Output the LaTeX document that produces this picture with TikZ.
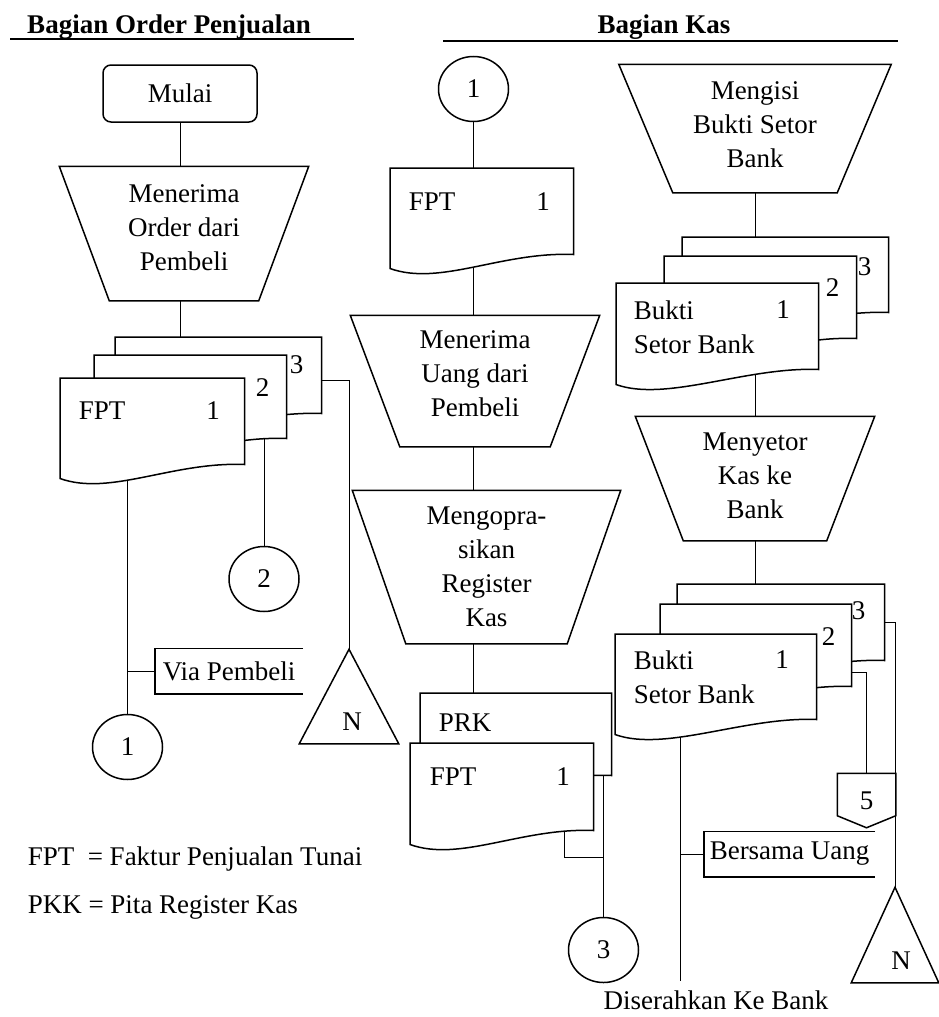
\documentclass[tikz,border=0pt]{standalone}
\usepackage{fontspec}
\setmainfont{Liberation Serif}
\usetikzlibrary{calc,shapes.geometric,backgrounds}

% trapezoid outline round a (empty) process node
\newcommand{\trapez}[2]{%
  \draw (#1.north west) -- (#1.north east) -- ([xshift=-#2pt]#1.south east)
    -- ([xshift=#2pt]#1.south west) -- cycle;}
% document outline, wavy bottom, right corner #2 higher
\newcommand{\docu}[2]{%
  \draw[fill=white] (#1.south west) -- (#1.north west) -- (#1.north east)
    -- ($(#1.south east)+(0,-#2)$)
    .. controls ($(#1.south east)+(-72,{-(#2+3)})$) and ($(#1.south west)+(50,18)$)
    .. (#1.south west) -- cycle;}

\begin{document}
\begin{tikzpicture}[x=1pt,y=-1pt,line width=1.5pt,
  every node/.style={font=\fontsize{27pt}{34pt}\selectfont, inner sep=2pt},
  head/.style={font=\fontsize{27pt}{34pt}\selectfont\bfseries},
  term/.style={draw, rounded corners=8pt, minimum width=154pt, minimum height=57pt},
  proc/.style={inner sep=0pt},
  doc/.style={inner sep=0pt, anchor=north west},
  conn/.style={draw, ellipse, minimum width=70pt, minimum height=65pt, inner sep=0pt},
  note/.style={anchor=west, inner xsep=7pt, minimum height=44pt}]

  \useasboundingbox (0,0) rectangle (938,1017);

  % headers
  \node[head] (hOrder) at (169,27) {Bagian Order Penjualan};
  \draw[line width=2.8pt] (10,39) -- (354,39);
  \node[head] (hKas) at (664,27) {Bagian Kas};
  \draw[line width=2.8pt] (443,41) -- (898,41);

  % Bagian Order Penjualan
  \node[term] (mulai) at (180,93.5) {Mulai};

  \node[proc, minimum width=248pt, minimum height=133pt] (recOrder) at (184,233.5) {};
  \trapez{recOrder}{50}
  \node[align=center] (recOrder-t) at (184,227.5) {Menerima\\Order dari\\Pembeli};

  \node[doc, minimum width=205pt, minimum height=89pt] (L3) at (115,337) {};
  \docu{L3}{14}
  \node[doc, minimum width=191pt, minimum height=96pt] (L2) at (94,355) {};
  \docu{L2}{14}
  \node[doc, minimum width=183pt, minimum height=99pt] (L1) at (60,378) {};
  \docu{L1}{14}
  \node (l3-no) at ($(L3.north east)+(-25,28)$) {3};
  \node (l2-no) at ($(L2.north east)+(-24,33)$) {2};
  \node[anchor=west] (l1-name) at ($(L1.north west)+(16,33)$) {FPT};
  \node (l1-no) at ($(L1.north west)+(153,33)$) {1};

  \node[conn] (c2) at (264,579) {2};
  \node[note] (via) at (155,671) {Via Pembeli};
  \draw (via.north east) -- (via.north west) -- (via.south west) -- (via.south east);
  \node[conn] (c1) at (127.5,747) {1};

  \node[proc, minimum width=98pt, minimum height=93pt] (nL) at (349,696.5) {};
  \draw (nL.north) -- (nL.south east) -- (nL.south west) -- cycle;
  \node (nL-t) at ($(nL.south)+(3,-22)$) {N};

  % legend
  \node[anchor=base west] (legFPT) at (25,865) {FPT\ \ = Faktur Penjualan Tunai};
  \node[anchor=base west] (legPKK) at (25,913) {PKK = Pita Register Kas};

  % Bagian Kas, middle
  \node[conn] (c1top) at (473.5,89) {1};

  \node[doc, minimum width=182pt, minimum height=99pt] (M1) at (390,168) {};
  \docu{M1}{14}
  \node[anchor=west] (m1-name) at ($(M1.north west)+(16,34)$) {FPT};
  \node (m1-no) at ($(M1.north west)+(153,34)$) {1};

  \node[proc, minimum width=248pt, minimum height=130pt] (recMoney) at (475,381) {};
  \trapez{recMoney}{49.5}
  \node[align=center] (recMoney-t) at (475,373.5) {Menerima\\Uang dari\\Pembeli};

  \node[proc, minimum width=267pt, minimum height=152pt] (regKas) at (486.5,567) {};
  \trapez{regKas}{53.5}
  \node[align=center] (regKas-t) at (486.5,567) {Mengopra-\\sikan\\Register\\Kas};

  \node[doc, minimum width=190pt, minimum height=95pt] (PRK) at (420,693) {};
  \docu{PRK}{14}
  \node[anchor=west] (prk-name) at ($(PRK.north west)+(16,30)$) {PRK};
  \node[doc, minimum width=182pt, minimum height=100pt] (FPTb) at (410,743) {};
  \docu{FPTb}{14}
  \node[anchor=west] (fptb-name) at ($(FPTb.north west)+(17,34)$) {FPT};
  \node (fptb-no) at ($(FPTb.north west)+(153,34)$) {1};

  \coordinate (j3) at (603.5,857);
  \node[conn] (c3) at (603.5,950) {3};

  % Bagian Kas, right
  \node[proc, minimum width=271pt, minimum height=127pt] (fillSlip) at (755,128.5) {};
  \trapez{fillSlip}{54}
  \node[align=center] (fillSlip-t) at (755,125) {Mengisi\\Bukti Setor\\Bank};

  \node[doc, minimum width=205pt, minimum height=88pt] (R3) at (682,237) {};
  \docu{R3}{14}
  \node[doc, minimum width=191pt, minimum height=95pt] (R2) at (664,256) {};
  \docu{R2}{14}
  \node[doc, minimum width=201pt, minimum height=100pt] (R1) at (616,283) {};
  \docu{R1}{15}
  \node (r3-no) at ($(R3.north east)+(-24,30)$) {3};
  \node (r2-no) at ($(R2.north east)+(-24,32)$) {2};
  \node[anchor=west, align=left] (r1-name) at ($(R1.north west)+(15,44)$) {Bukti\\Setor Bank};
  \node (r1-no) at ($(R1.north west)+(167,27)$) {1};

  \node[proc, minimum width=238pt, minimum height=123pt] (deposit) at (755,478.5) {};
  \trapez{deposit}{48}
  \node[align=center] (deposit-t) at (755,476) {Menyetor\\Kas ke\\Bank};

  \node[doc, minimum width=206pt, minimum height=89pt] (S3) at (677,584) {};
  \docu{S3}{14}
  \node[doc, minimum width=190pt, minimum height=95pt] (S2) at (660,604) {};
  \docu{S2}{14}
  \node[doc, minimum width=200pt, minimum height=99pt] (S1) at (615,634) {};
  \docu{S1}{15}
  \node (s3-no) at ($(S3.north east)+(-26,27)$) {3};
  \node (s2-no) at ($(S2.north east)+(-23,33)$) {2};
  \node[anchor=west, align=left] (s1-name) at ($(S1.north west)+(16,43)$) {Bukti\\Setor Bank};
  \node (s1-no) at ($(S1.north west)+(167,26)$) {1};
  \coordinate (s1out) at ($(S1.north west)+(65,50)$);

  \node (p5) [proc, minimum width=57pt, minimum height=53pt] at (866.5,800.5) {5};
  \draw (p5.north west) -- (p5.north east) -- ($(p5.south east)+(0,-12)$)
    -- (p5.south) -- ($(p5.south west)+(0,-12)$) -- cycle;

  \node[note, inner xsep=5pt] (uang) at (704,854) {Bersama Uang};
  \draw (uang.north east) -- (uang.north west) -- (uang.south west) -- (uang.south east);

  \node[proc, minimum width=86pt, minimum height=94pt] (nR) at (895,935) {};
  \draw (nR.north) -- (nR.south east) -- (nR.south west) -- cycle;
  \node (nR-t) at ($(nR.south)+(6,-22)$) {N};

  \node (toBank) at (716,1000) {Diserahkan Ke Bank};

  % flow lines
  \begin{scope}[on background layer]
    \draw (mulai.south) -- (mulai.south |- recOrder.north);
    \draw (mulai |- recOrder.south) -- (mulai |- L3.north);
    \draw (c1 |- L1.center) -- (c1.north);
    \draw (c1 |- via.west) -- (via.west);
    \draw (c2 |- L2.center) -- (c2.north);
    \draw ([yshift=2pt]L3.east) -| (nL.north);

    \draw (c1top.south) -- (c1top |- M1.north);
    \draw (c1top |- M1.center) -- (c1top |- recMoney.north);
    \draw (c1top |- recMoney.south) -- (c1top |- regKas.north);
    \draw (c1top |- regKas.south) -- (c1top |- PRK.north);
    \draw (c3 |- PRK.center) -- (c3.north);
    \draw ([xshift=-29pt]FPTb.east) |- (j3);

    \draw (fillSlip.south) -- (fillSlip.south |- R3.north);
    \draw (deposit |- R1.center) -- (deposit.north);
    \draw (deposit.south) -- (deposit.south |- S3.north);
    \draw[shorten >=7pt] (s1out) -- (s1out |- toBank.north);
    \draw (s1out |- uang.west) -- (uang.west);
    \draw ([yshift=-20pt]S2.east) -| (p5.north);
    \draw ([yshift=7pt]S3.east) -| (nR.north);
  \end{scope}

\end{tikzpicture}
\end{document}
